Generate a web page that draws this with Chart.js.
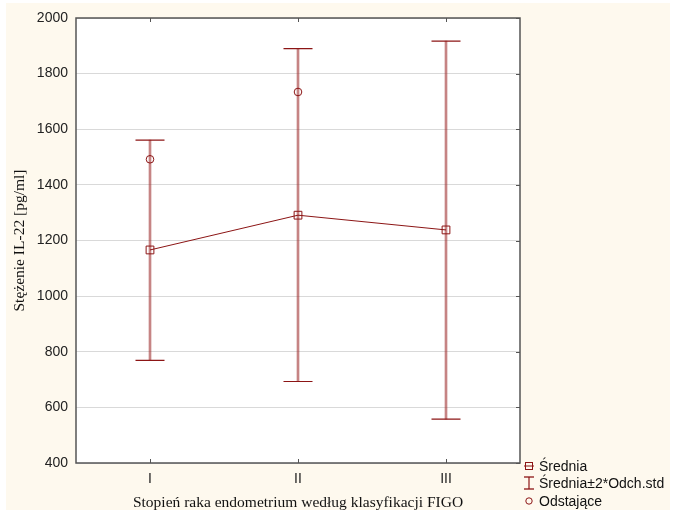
<!DOCTYPE html>
<html>
<head>
<meta charset="utf-8">
<script src="https://cdn.jsdelivr.net/npm/chart.js@4/dist/chart.umd.min.js"></script>
<style>
  html, body { margin: 0; padding: 0; background: #ffffff; }
  #wrap { position: relative; width: 673px; height: 515px; }
  #c { position: absolute; left: 0; top: 0; }
  .lg { position: absolute; left: 523px; font: 14px "Liberation Sans", Arial, sans-serif; color: #111; white-space: nowrap; line-height: 16px; }
  .lg svg { vertical-align: middle; margin-right: 4px; position: relative; top: -1px; }
</style>
</head>
<body>
<div id="wrap">
  <canvas id="c" width="673" height="515"></canvas>
  <div class="lg" style="top:458px"><svg width="12" height="12"><line x1="1" y1="6" x2="11" y2="6" stroke="#8c1515" stroke-width="1"/><rect x="2.5" y="2.5" width="7" height="7" fill="none" stroke="#8c1515" stroke-width="1"/></svg>Średnia</div>
  <div class="lg" style="top:475px"><svg width="12" height="14"><line x1="6" y1="1" x2="6" y2="13" stroke="#8c1515" stroke-width="1.2"/><line x1="1" y1="1" x2="11" y2="1" stroke="#8c1515" stroke-width="1.3"/><line x1="1" y1="13" x2="11" y2="13" stroke="#8c1515" stroke-width="1.3"/></svg>Średnia±2*Odch.std</div>
  <div class="lg" style="top:493px"><svg width="12" height="12"><circle cx="6" cy="6" r="3.2" fill="none" stroke="#8c1515" stroke-width="1"/></svg>Odstające</div>
</div>
<script>
const categories = ['I', 'II', 'III'];
const means = [1166, 1291, 1238];
const upper = [1561, 1890, 1917];
const lower = [769, 693, 558];
const outliers = [1492, 1734, null];
const yTicks = [400, 600, 800, 1000, 1200, 1400, 1600, 1800, 2000];

const RED = '#8c1515';

const framePlugin = {
  id: 'frame',
  beforeDraw(chart) {
    const ctx = chart.ctx, a = chart.chartArea;
    ctx.save();
    ctx.fillStyle = '#fef9ee';
    ctx.fillRect(6, 3, 664, 507);
    ctx.fillStyle = '#ffffff';
    ctx.fillRect(a.left, a.top, a.right - a.left, a.bottom - a.top);
    ctx.restore();
  },
  afterDatasetsDraw(chart) {
    const ctx = chart.ctx, a = chart.chartArea;
    const xs = chart.scales.x, ys = chart.scales.y;
    ctx.save();
    ctx.strokeStyle = '#555555';
    ctx.lineWidth = 1;
    ctx.beginPath();
    categories.forEach((c, i) => {
      const px = Math.round(xs.getPixelForValue(i)) + 0.5;
      ctx.moveTo(px, a.bottom); ctx.lineTo(px, a.bottom - 4);
      ctx.moveTo(px, a.top); ctx.lineTo(px, a.top + 4);
    });
    yTicks.forEach(v => {
      const py = Math.round(ys.getPixelForValue(v)) + 0.5;
      ctx.moveTo(a.right, py); ctx.lineTo(a.right - 4, py);
    });
    ctx.stroke();
    ctx.strokeStyle = '#555555';
    ctx.lineWidth = 1.5;
    ctx.strokeRect(a.left, a.top, a.right - a.left, a.bottom - a.top);
    ctx.restore();
  }
};

new Chart(document.getElementById('c'), {
  data: {
    labels: categories,
    datasets: [
      {
        type: 'bar',
        label: 'whisker',
        data: lower.map((l, i) => [l, upper[i]]),
        backgroundColor: 'rgba(160,50,50,0.6)',
        borderWidth: 0,
        barThickness: 2,
        order: 10
      },
      {
        type: 'line',
        label: 'upper',
        data: upper,
        showLine: false,
        pointStyle: 'line',
        pointRadius: 14.5,
        pointBorderWidth: 1.2,
        borderColor: RED,
        pointBorderColor: RED,
        order: 2
      },
      {
        type: 'line',
        label: 'lower',
        data: lower,
        showLine: false,
        pointStyle: 'line',
        pointRadius: 14.5,
        pointBorderWidth: 1.2,
        borderColor: RED,
        pointBorderColor: RED,
        order: 2
      },
      {
        type: 'line',
        label: 'Średnia',
        data: means,
        borderColor: RED,
        borderWidth: 1,
        pointStyle: 'rect',
        pointRadius: 5.5,
        pointBorderWidth: 1,
        pointBackgroundColor: 'rgba(255,255,255,0)',
        pointBorderColor: RED,
        tension: 0,
        order: 1
      },
      {
        type: 'line',
        label: 'Odstające',
        data: outliers,
        showLine: false,
        pointStyle: 'circle',
        pointRadius: 3.8,
        pointBorderWidth: 1,
        pointBackgroundColor: 'rgba(255,255,255,0)',
        pointBorderColor: RED,
        order: 1
      }
    ]
  },
  options: {
    responsive: false,
    animation: false,
    devicePixelRatio: 1,
    layout: { padding: { left: 0, top: 18, right: 153, bottom: 0 } },
    plugins: { legend: { display: false }, tooltip: { enabled: false } },
    scales: {
      x: {
        type: 'category',
        offset: true,
        grid: { display: false, drawTicks: false },
        border: { display: false },
        ticks: { color: '#222', padding: 8, font: { family: '"Liberation Sans", Arial, sans-serif', size: 14 } },
        title: {
          display: true,
          text: 'Stopień raka endometrium według klasyfikacji FIGO',
          color: '#111',
          font: { family: '"Liberation Serif", "Times New Roman", serif', size: 15.5 },
          padding: { top: 0, bottom: 3 }
        },
        afterFit(s) { s.height = 52; }
      },
      y: {
        type: 'linear',
        min: 400,
        max: 2000,
        afterBuildTicks(s) { s.ticks = yTicks.map(v => ({ value: v })); },
        grid: { color: '#d9d9d9', lineWidth: 1, drawTicks: false },
        border: { display: false },
        ticks: {
          color: '#222', padding: 8,
          font: { family: '"Liberation Sans", Arial, sans-serif', size: 14 },
          callback: (v) => String(v)
        },
        title: {
          display: true,
          text: 'Stężenie IL-22 [pg/ml]',
          color: '#111',
          font: { family: '"Liberation Serif", "Times New Roman", serif', size: 15.5 },
          padding: { top: 11, bottom: 0 }
        },
        afterFit(s) { s.width = 76; }
      }
    }
  },
  plugins: [framePlugin]
});
</script>
</body>
</html>
